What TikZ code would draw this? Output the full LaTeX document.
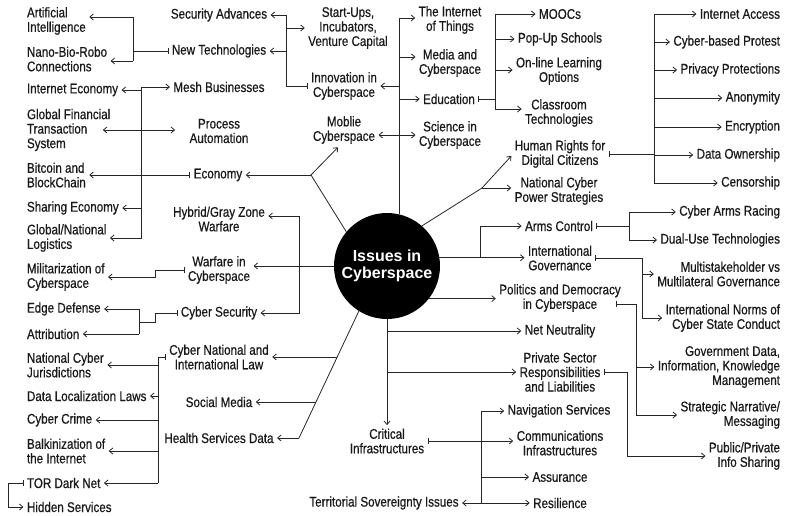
\documentclass[tikz,border=0pt]{standalone}
\usepackage{fontspec}
\setmainfont{Liberation Sans}[FakeStretch=0.83,FakeBold=0.6]
\newfontfamily\ctrfont{Liberation Sans}
\usetikzlibrary{arrows.meta,calc}
\newcommand\lblsize{\fontsize{14}{14.5}\selectfont}
\begin{document}
\begin{tikzpicture}[x=1pt,y=-1pt,
  >={Straight Barb[length=3.5pt,width=6pt]},
  lbl/.style={font=\lblsize, inner sep=0pt, outer sep=3.5pt, text=black!90},
  cl/.style={lbl, align=center},
  ll/.style={lbl, align=left, anchor=west},
  rl/.style={lbl, align=right, anchor=east},
  conn/.style={line width=0.8pt, draw=black!85}]
\useasboundingbox (0,0) rectangle (787,516);

% hub
\node[circle, fill=black, minimum size=106pt, inner sep=0pt, outer sep=0pt, text=white, align=center,
  font=\ctrfont\bfseries\fontsize{16}{17}\selectfont] (c) at (387,266) {Issues in\\Cyberspace};

% left column
\node[ll] (ai) at (23.5,21) {Artificial\\Intelligence};
\node[ll] (nano) at (23.5,59) {Nano-Bio-Robo\\Connections};
\node[ll] (ie) at (23.5,90) {Internet Economy};
\node[ll] (gft) at (23.5,130) {Global Financial\\Transaction\\System};
\node[ll] (btc) at (23.5,175) {Bitcoin and\\BlockChain};
\node[ll] (se) at (23.5,208) {Sharing Economy};
\node[ll] (gnl) at (23.5,238) {Global/National\\Logistics};
\node[ll] (mil) at (23.5,277) {Militarization of\\Cyberspace};
\node[ll] (edgedef) at (23.5,309) {Edge Defense};
\node[ll] (attr) at (23.5,334) {Attribution};
\node[ll] (ncj) at (23.5,365) {National Cyber\\Jurisdictions};
\node[ll] (dll) at (23.5,396) {Data Localization Laws};
\node[ll] (cc) at (23.5,420) {Cyber Crime};
\node[ll] (balk) at (23.5,451) {Balkinization of\\the Internet};
\node[ll] (tor) at (23.5,483) {TOR Dark Net};
\node[ll] (hid) at (23.5,507) {Hidden Services};

% second column
\node[cl] (secadv) at (219,15) {Security Advances};
\node[cl] (newtech) at (219,51) {New Technologies};
\node[cl] (mesh) at (219,87) {Mesh Businesses};
\node[cl] (proc) at (219,131) {Process\\Automation};
\node[cl] (econ) at (218,175) {Economy};
\node[cl] (hybrid) at (219,219) {Hybrid/Gray Zone\\Warfare};
\node[cl] (warfare) at (219,270) {Warfare in\\Cyberspace};
\node[cl] (cybsec) at (219,313) {Cyber Security};
\node[cl] (cnil) at (219,357) {Cyber National and\\International Law};
\node[cl] (social) at (219,402) {Social Media};
\node[cl] (health) at (219,438) {Health Services Data};

% third column
\node[cl] (startups) at (348,28) {Start-Ups,\\Incubators,\\Venture Capital};
\node[cl] (innov) at (344,86) {Innovation in\\Cyberspace};
\node[cl] (mobile) at (344,130) {Moblie\\Cyberspace};
\node[cl] (crit) at (387,441) {Critical\\Infrastructures};
\node[cl] (terr) at (384,503) {Territorial Sovereignty Issues};

% fourth column
\node[cl] (iot) at (450,20) {The Internet\\of Things};
\node[cl] (media) at (450,63) {Media and\\Cyberspace};
\node[cl] (edu) at (449,99) {Education};
\node[cl] (sci) at (450,135) {Science in\\Cyberspace};

% fifth column
\node[cl] (moocs) at (560,14) {MOOCs};
\node[cl] (popup) at (560,39) {Pop-Up Schools};
\node[cl] (online) at (559,71) {On-line Learning\\Options};
\node[cl] (class) at (559,113) {Classroom\\Technologies};
\node[cl] (hr) at (560,154) {Human Rights for\\Digital Citizens};
\node[cl] (ncps) at (559,191) {National Cyber\\Power Strategies};
\node[cl] (arms) at (559,226) {Arms Control};
\node[cl] (ig) at (560,258) {International\\Governance};
\node[cl] (pol) at (560,298) {Politics and Democracy\\in Cyberspace};
\node[cl] (net) at (560,331) {Net Neutrality};
\node[cl] (priv) at (560,372) {Private Sector\\Responsibilities\\and Liabilities};
\node[cl] (nav) at (559,411) {Navigation Services};
\node[cl] (comm) at (560,443) {Communications\\Infrastructures};
\node[cl] (assur) at (560,477) {Assurance};
\node[cl] (resil) at (560,503) {Resilience};

% right column
\node[rl] (ia) at (783.5,14) {Internet Access};
\node[rl] (cbp) at (783.5,42) {Cyber-based Protest};
\node[rl] (pp) at (783.5,70) {Privacy Protections};
\node[rl] (anon) at (783.5,98) {Anonymity};
\node[rl] (enc) at (783.5,127) {Encryption};
\node[rl] (dow) at (783.5,155) {Data Ownership};
\node[rl] (cens) at (783.5,183) {Censorship};
\node[rl] (car) at (783.5,212) {Cyber Arms Racing};
\node[rl] (dut) at (783.5,240) {Dual-Use Technologies};
\node[rl] (msv) at (783.5,274) {Multistakeholder vs\\Multilateral Governance};
\node[rl] (inorm) at (783.5,318) {International Norms of\\Cyber State Conduct};
\node[rl] (gov) at (783.5,367) {Government Data,\\Information, Knowledge\\Management};
\node[rl] (strat) at (783.5,415) {Strategic Narrative/\\Messaging};
\node[rl] (ppis) at (783.5,456) {Public/Private\\Info Sharing};

% ---- connectors ----
% new technologies
\coordinate (nt1) at (133,17); \coordinate (nt2) at (133,61);
\draw[conn] (nt1) -- (nt2);
\draw[conn,->] (nt1) -- (nt1 -| ai.east);
\draw[conn,->] (nt2) -- (nt2 -| nano.east);
\draw[conn,{Bar[width=6pt]}-] (newtech.west) -- (newtech.west -| nt1);

% innovation
\coordinate (inx) at (286,0);
\draw[conn] (inx |- secadv.east) -- (inx |- innov.west);
\draw[conn,->] (inx |- secadv.east) -- (secadv.east);
\draw[conn,->] (inx |- newtech.east) -- (newtech.east);
\draw[conn,->] (inx |- startups.west) -- (startups.west);
\draw[conn,{Bar[width=6pt]}-] (innov.west) -- (innov.west -| inx);

% upward trunk
\coordinate (up) at (399,18);
\coordinate (um) at (399,57);
\coordinate (ums) at (399,135);
\draw[conn] (up |- c.77) -- (up);
\draw[conn,->] (up) -- (up -| iot.west);
\draw[conn,->] (um) -- (um -| media.west);
\draw[conn,->] (innov.east -| up) -- (innov.east);
\draw[conn,->] (edu.west -| up) -- (edu.west);
\draw[conn,<->] (ums -| mobile.east) -- (ums -| sci.west);

% education
\coordinate (ed) at (495,0);
\coordinate (ed3) at (495,70);
\coordinate (ed4) at (495,109);
\draw[conn] (ed |- moocs.west) -- (ed4);
\draw[conn,->] (ed |- moocs.west) -- (moocs.west);
\draw[conn,->] (ed |- popup.west) -- (popup.west);
\draw[conn,->] (ed3) -- (ed3 -| online.west);
\draw[conn,->] (ed4) -- (ed4 -| class.west);
\draw[conn,{Bar[width=6pt]}-] (edu.east) -- (edu.east -| ed);

% human rights
\coordinate (hx) at (654,0);
\draw[conn] (hx |- ia.west) -- (hx |- cens.west);
\foreach \n in {ia,cbp,pp,anon,enc,dow,cens} \draw[conn,->] (hx |- \n.west) -- (\n.west);
\draw[conn,{Bar[width=6pt]}-] (hr.east) -- (hr.east -| hx);

% upper-right diagonal
\coordinate (hrj) at (482,188);
\draw[conn] (c.49) -- (hrj);
\draw[conn,->] (hrj) -- ([yshift=-2pt]hr.west);
\draw[conn,->] (hrj) -- (hrj -| ncps.west);

% arms control / international governance
\coordinate (ax) at (480,0);
\draw[conn,->] (c.9) -- (c.9 -| ig.west);
\draw[conn,->] (ax |- c.9) |- (arms.west);
\coordinate (arx) at (629,0);
\draw[conn,{Bar[width=6pt]}-] (arms.east) -- (arms.east -| arx);
\draw[conn] (arx |- car.west) -- (arx |- dut.west);
\draw[conn,->] (arx |- car.west) -- (car.west);
\draw[conn,->] (arx |- dut.west) -- (dut.west);
\coordinate (igx) at (642,0);
\draw[conn,{Bar[width=6pt]}-] (ig.east) -| (igx |- inorm.west);
\draw[conn,->] (igx |- msv.west) -- (msv.west);
\draw[conn,->] (igx |- inorm.west) -- (inorm.west);

% politics
\draw[conn,->] (c.-38.5) -- (c.-38.5 -| pol.west);
\coordinate (px) at (636,0);
\draw[conn,{Bar[width=6pt]}-] ([xshift=-8pt,yshift=-6pt]pol.east) -| (px |- strat.west);
\draw[conn,->] (px |- gov.west) -- (gov.west);
\draw[conn,->] (px |- strat.west) -- (strat.west);

% downward trunk
\draw[conn,->] (c.south) -- (crit.north);
\draw[conn,->] (c.south |- net.west) -- (net.west);
\draw[conn,->] (c.south |- priv.west) -- (priv.west);
\coordinate (prx) at (627,0);
\draw[conn,{Bar[width=6pt]}->] (priv.east) -| (prx |- ppis.west) -- (ppis.west);

% critical infrastructures
\coordinate (cx) at (481,0);
\draw[conn,{Bar[width=6pt]}->] (crit.east) -- (crit.east -| comm.west);
\draw[conn] (cx |- nav.west) -- (cx |- resil.west);
\draw[conn,->] (cx |- nav.west) -- (nav.west);
\draw[conn,->] (cx |- assur.west) -- (assur.west);
\draw[conn,->] (cx |- resil.west) -- (resil.west);
\draw[conn,->] (cx |- resil.west) -- (terr.east);

% lower-left diagonal
\coordinate (dj) at (299,438);
\draw[conn] (c.238) -- coordinate[pos=0.362] (d1) coordinate[pos=0.717] (d2) (dj);
\draw[conn,->] (d1) -- (d1 -| cnil.east);
\draw[conn,->] (d2) -- (d2 -| social.east);
\draw[conn,->] (dj) -- (health.east);

% law group
\coordinate (lx) at (158,0);
\draw[conn,{Bar[width=6pt]}-] (cnil.west) -- (cnil.west -| lx);
\draw[conn] (lx |- cnil.west) -- (lx |- tor.east);
\foreach \n in {ncj,dll,cc,balk,tor} \draw[conn,->] (lx |- \n.east) -- (\n.east);
\coordinate (tx) at (8,0);
\draw[conn,{Bar[width=6pt]}->] (tor.west) -- (tor.west -| tx) |- (hid.west);

% left trunk (warfare)
\coordinate (wx) at (299,0);
\draw[conn,->] (c.west) -- (c.west -| warfare.east);
\draw[conn,->] (wx |- c.west) |- ([yshift=3pt]hybrid.east);
\draw[conn,->] (wx |- c.west) |- (cybsec.east);
\coordinate (wfx) at (155,0);
\draw[conn,{Bar[width=6pt]}->] (warfare.west) -- (warfare.west -| wfx) |- (mil.east);
\coordinate (csj) at (139,322);
\draw[conn,{Bar[width=6pt]}-] (cybsec.west) -- (cybsec.west -| wfx) |- (csj);
\draw[conn] (csj |- edgedef.east) -- (csj |- attr.east);
\draw[conn,->] (csj |- edgedef.east) -- (edgedef.east);
\draw[conn,->] (csj |- attr.east) -- (attr.east);

% economy
\coordinate (ej) at (311,175);
\draw[conn] (c.140) -- (ej);
\draw[conn,->] (ej) -- ([xshift=-6pt]mobile.south);
\draw[conn,->] (ej) -- (ej -| econ.east);
\draw[conn,{Bar[width=6pt]}->] (econ.west) -- (econ.west -| btc.east);
\coordinate (ex) at (141,0);
\draw[conn,<->] (gnl.east) -| (ex |- mesh.west) -- (mesh.west);
\draw[conn,->] (ex |- ie.east) -- (ie.east);
\draw[conn,->] (ex |- se.east) -- (se.east);
\draw[conn,<->] ([xshift=-11pt]gft.east) -- ([xshift=-11pt]gft.east -| proc.west);
\end{tikzpicture}
\end{document}
